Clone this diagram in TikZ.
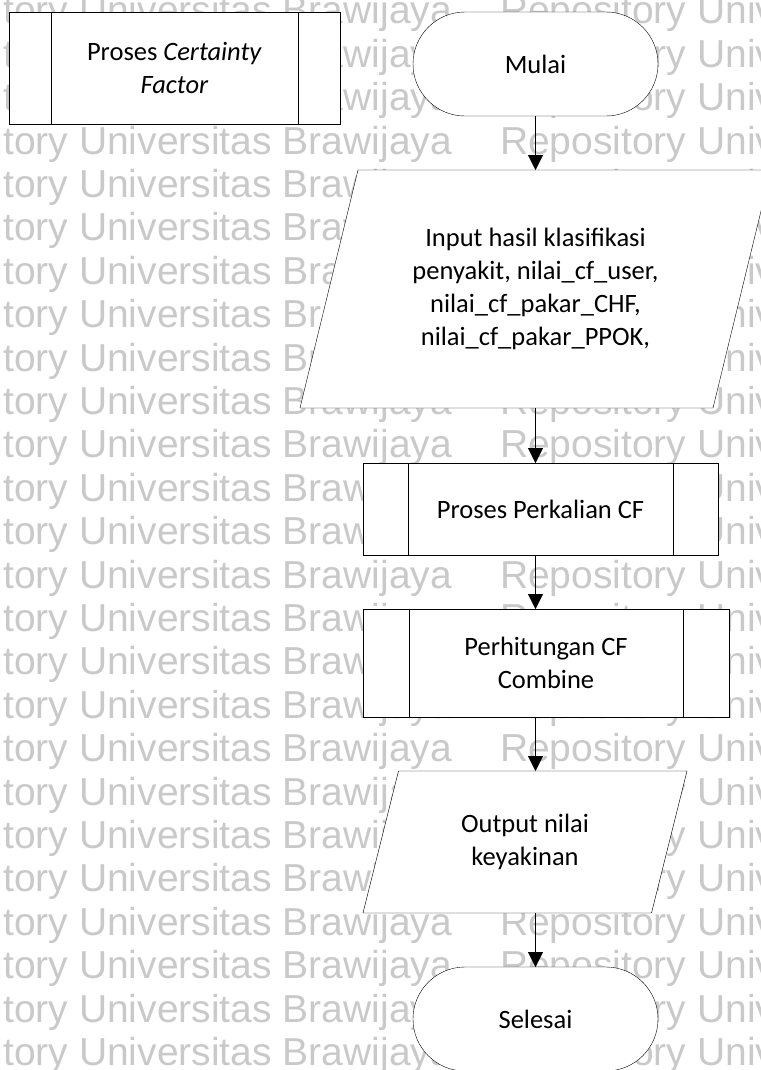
\documentclass[tikz,border=0pt]{standalone}
\usepackage{fontspec}
\setmainfont{Carlito}
\newfontfamily\wmfamily{Liberation Sans}
\usetikzlibrary{shapes.misc,arrows.meta,calc}
\pgfdeclarelayer{wm}
\pgfdeclarelayer{shp}
\pgfsetlayers{wm,shp,main}
\newcommand\dgfont{\fontsize{26.5bp}{33bp}\selectfont}
\newcommand\wmfont{\wmfamily\fontsize{39bp}{43bp}\selectfont}

\begin{document}
\begin{tikzpicture}[x=1bp,y=-1bp,
  line width=2bp,
  box/.style={draw, fill=white, inner sep=0pt, outer sep=0pt, align=center, font=\dgfont},
  term/.style={box, rounded rectangle, minimum width=245bp, minimum height=104bp},
  pproc/.style={box, path picture={
      \draw ([xshift=#1]path picture bounding box.north west) -- ([xshift=#1]path picture bounding box.south west)
            ([xshift=-#1]path picture bounding box.north east) -- ([xshift=-#1]path picture bounding box.south east);}},
  io/.style={inner sep=0pt, outer sep=0pt, align=center, font=\dgfont},
  arr/.style={-{Triangle[length=15bp,width=15bp]}},
  wmtext/.style={inner sep=0pt, outer sep=0pt, font=\wmfont, text=black!21}
]
\path[use as bounding box] (0,0) rectangle (761,1070);

% repository watermark rows
\begin{pgfonlayer}{wm}
\foreach \k in {0,...,25} {
  \pgfmathsetmacro\yb{-19.6+43.4*\k}
  \node[wmtext, anchor=base east, name=wmL\k] at (452,\yb) {Repository Universitas Brawijaya};
  \node[wmtext, anchor=base west, name=wmR\k] at (500,\yb) {Repository Universitas};
}
\end{pgfonlayer}

% sub-process label
\node[pproc=42bp, minimum width=331bp, minimum height=112bp] (cf) at (174.5,68) {Proses \textit{Certainty}\\\textit{Factor}};

% main flow
\node[term] (mulai) at (535.5,64) {Mulai};

\node[io, minimum width=471bp, minimum height=238bp] (in) at (535.5,289)
  {Input hasil klasifikasi\\penyakit, nilai\_cf\_user,\\nilai\_cf\_pakar\_CHF,\\nilai\_cf\_pakar\_PPOK,};

\node[pproc=45bp, minimum width=355bp, minimum height=92bp] (perk) at (540.5,509) {Proses Perkalian CF};
\node[pproc=46bp, minimum width=366bp, minimum height=108bp] (perh) at (546,663) {Perhitungan CF\\Combine};

\node[io, minimum width=324bp, minimum height=142bp] (out) at (525,842) {Output nilai\\keyakinan};

\node[term] (selesai) at (535.5,1019) {Selesai};

% parallelogram outlines behind their labels
\begin{pgfonlayer}{shp}
\draw[fill=white] (in.south west) -- ($(in.south east)+(-58,0)$) -- (in.north east) -- ($(in.north west)+(58,0)$) -- cycle;
\draw[fill=white] (out.south west) -- ($(out.south east)+(-35.5,0)$) -- (out.north east) -- ($(out.north west)+(35.5,0)$) -- cycle;
\end{pgfonlayer}

% connectors
\coordinate (ax) at (535.5,0);
\draw[arr] (mulai.south) -- (in.north);
\draw[arr] (in.south) -- (perk.north -| ax);
\draw[arr] (perk.south -| ax) -- (perh.north -| ax);
\draw[arr] (perh.south -| ax) -- (out.north -| ax);
\draw[arr] (out.south -| ax) -- (selesai.north);
\end{tikzpicture}
\end{document}
